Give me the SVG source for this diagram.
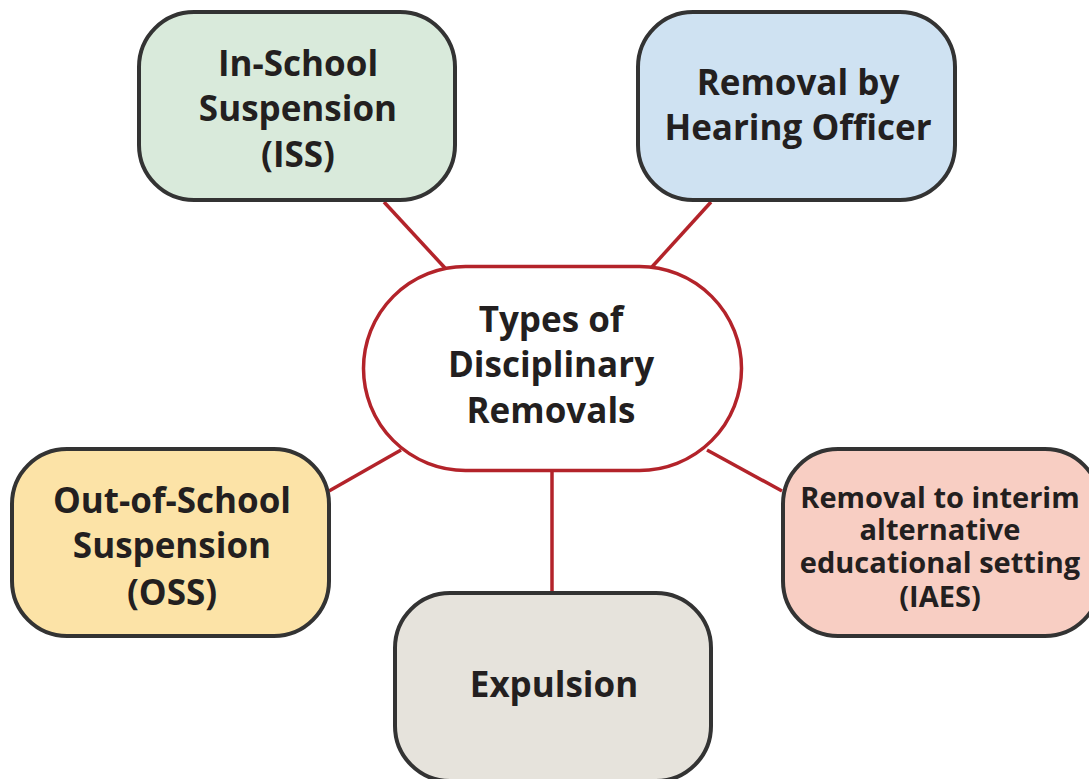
<svg xmlns="http://www.w3.org/2000/svg" width="1089" height="779" viewBox="0 0 1089 779">
<style>
.box{stroke:#333333;stroke-width:4}
.hub{fill:#ffffff;stroke:#b3232a;stroke-width:3.5}
.link{stroke:#b3232a;stroke-width:3.5;fill:none}
.t{font-family:"Open Sans","Noto Sans","Liberation Sans",sans-serif;font-weight:bold;fill:#231f20;text-anchor:middle}
.big{font-size:35px}
.small{font-size:29px}
</style>
<rect width="1089" height="779" fill="#ffffff"/>
<g id="connectors">
<line class="link" x1="384" y1="202" x2="445" y2="268"/>
<line class="link" x1="711" y1="202" x2="651" y2="268"/>
<line class="link" x1="329" y1="491" x2="401" y2="450"/>
<line class="link" x1="707" y1="450" x2="782" y2="491"/>
<line class="link" x1="552" y1="470" x2="552" y2="592"/>
</g>
<g id="center">
<rect class="hub" x="363.5" y="266.5" width="378" height="204" rx="102" ry="102"/>
<text class="t big" x="551" y="332">Types of</text>
<text class="t big" x="551" y="377">Disciplinary</text>
<text class="t big" x="551" y="423">Removals</text>
</g>
<g id="iss">
<rect class="box" x="139" y="12" width="316" height="188" rx="55" ry="55" fill="#d9eadb"/>
<text class="t big" x="298" y="76">In-School</text>
<text class="t big" x="298" y="121">Suspension</text>
<text class="t big" x="298" y="167">(ISS)</text>
</g>
<g id="hearing">
<rect class="box" x="638" y="12" width="317" height="188" rx="55" ry="55" fill="#cfe2f2"/>
<text class="t big" x="798" y="95">Removal by</text>
<text class="t big" x="798" y="140">Hearing Officer</text>
</g>
<g id="oss">
<rect class="box" x="12" y="449" width="317" height="187" rx="55" ry="55" fill="#fce3a7"/>
<text class="t big" x="172" y="513">Out-of-School</text>
<text class="t big" x="172" y="558">Suspension</text>
<text class="t big" x="172" y="605">(OSS)</text>
</g>
<g id="iaes">
<rect class="box" x="783" y="449" width="317" height="187" rx="55" ry="55" fill="#f8cec3"/>
<text class="t small" x="940" y="508">Removal to interim</text>
<text class="t small" x="940" y="540">alternative</text>
<text class="t small" x="940" y="573">educational setting</text>
<text class="t small" x="940" y="607">(IAES)</text>
</g>
<g id="expulsion">
<rect class="box" x="395" y="593" width="316" height="188" rx="55" ry="55" fill="#e6e3dc"/>
<text class="t big" x="554" y="697">Expulsion</text>
</g>
</svg>
